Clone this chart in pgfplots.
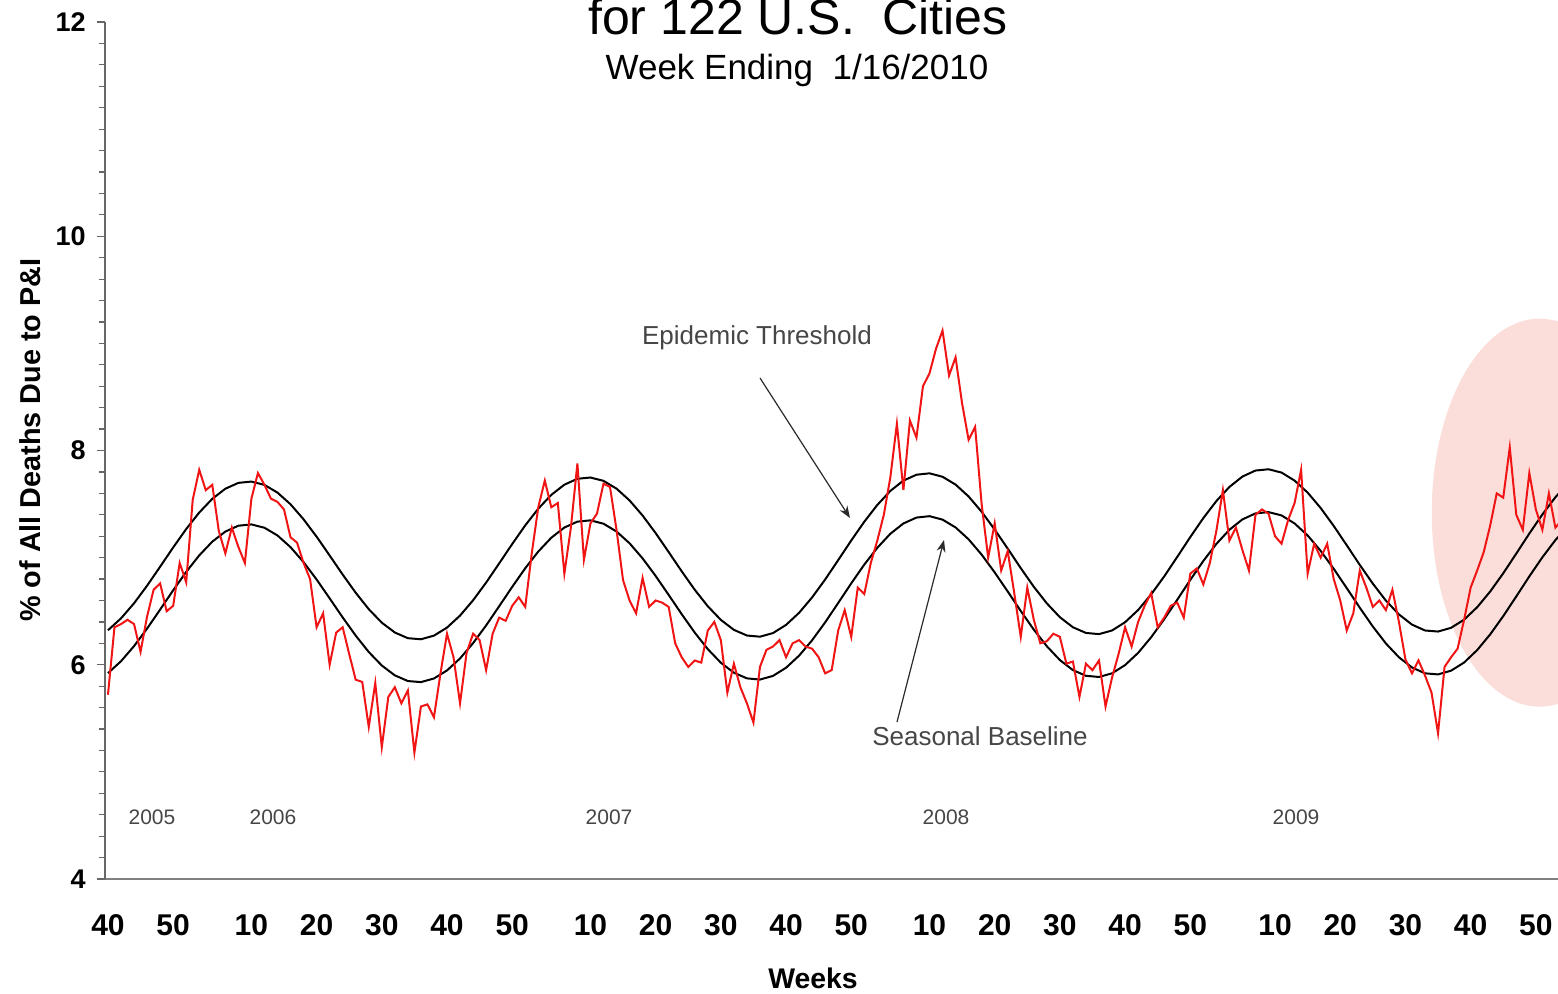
\documentclass[border=0pt]{standalone}
\usepackage{fontspec}
\setmainfont{Liberation Sans}
\usepackage{pgfplots}
\pgfplotsset{compat=1.18}
\usepackage{pgfplotstable}
\usetikzlibrary{arrows.meta}
\definecolor{pinkfill}{RGB}{251,222,217}
\definecolor{axgray}{RGB}{128,128,128}
\definecolor{txtgray}{RGB}{70,70,70}
\definecolor{pired}{RGB}{240,20,20}

\pgfplotstableread{
t b e
0 5.922 6.322
2 6.033 6.433
4 6.174 6.574
6 6.338 6.738
8 6.515 6.915
10 6.695 7.095
12 6.867 7.267
14 7.021 7.421
16 7.149 7.549
18 7.243 7.643
20 7.298 7.698
22 7.310 7.710
24 7.279 7.679
26 7.207 7.607
28 7.098 7.498
30 6.958 7.358
32 6.796 7.196
34 6.620 7.020
36 6.442 6.842
38 6.272 6.672
40 6.119 6.519
42 5.993 6.393
44 5.901 6.301
46 5.848 6.248
48 5.838 6.238
50 5.872 6.272
52 5.947 6.347
54 6.059 6.459
56 6.202 6.602
58 6.367 6.767
60 6.546 6.946
62 6.727 7.127
64 6.901 7.301
66 7.057 7.457
68 7.186 7.586
70 7.281 7.681
72 7.336 7.736
74 7.348 7.748
76 7.317 7.717
78 7.244 7.644
80 7.134 7.534
82 6.993 7.393
84 6.829 7.229
86 6.652 7.052
88 6.472 6.872
90 6.300 6.700
92 6.146 6.546
94 6.019 6.419
96 5.926 6.326
98 5.873 6.273
100 5.862 6.262
102 5.896 6.296
104 5.972 6.372
106 6.085 6.485
108 6.229 6.629
110 6.396 6.796
112 6.577 6.977
114 6.760 7.160
116 6.935 7.335
118 7.092 7.492
120 7.223 7.623
122 7.319 7.719
124 7.374 7.774
126 7.387 7.787
128 7.355 7.755
130 7.282 7.682
132 7.171 7.571
134 7.028 7.428
136 6.862 7.262
138 6.684 7.084
140 6.502 6.902
142 6.328 6.728
144 6.173 6.573
146 6.044 6.444
148 5.950 6.350
150 5.897 6.297
152 5.886 6.286
154 5.920 6.320
156 5.997 6.397
158 6.111 6.511
160 6.257 6.657
162 6.425 6.825
164 6.607 7.007
166 6.792 7.192
168 6.969 7.369
170 7.128 7.528
172 7.260 7.660
174 7.357 7.757
176 7.413 7.813
178 7.425 7.825
180 7.394 7.794
182 7.319 7.719
184 7.207 7.607
186 7.063 7.463
188 6.896 7.296
190 6.715 7.115
192 6.532 6.932
194 6.357 6.757
196 6.199 6.599
198 6.070 6.470
200 5.975 6.375
202 5.920 6.320
204 5.910 6.310
206 5.945 6.345
208 6.021 6.421
210 6.137 6.537
212 6.284 6.684
214 6.454 6.854
216 6.638 7.038
218 6.825 7.225
220 7.003 7.403
222 7.164 7.564
224 7.297 7.697
}\basetable

\begin{document}
\begin{tikzpicture}
\useasboundingbox (0,0) rectangle (779pt,496.5pt);
\begin{axis}[
  at={(52.35pt,57pt)}, anchor=south west,
  scale only axis, width=726.65pt, height=428.5pt,
  xmin=-0.5, xmax=222.4, ymin=4, ymax=12,
  axis x line*=bottom, axis y line*=left,
  x axis line style={axgray, line width=1.3pt},
  y axis line style={axgray!80!black, line width=0.8pt},
  xtick={0,10,22,32,42,52,62,74,84,94,104,114,126,136,146,156,166,179,189,199,209,219},
  xticklabels={40,50,10,20,30,40,50,10,20,30,40,50,10,20,30,40,50,10,20,30,40,50},
  x tick style={draw=none},
  xticklabel style={font=\fontsize{15}{15}\selectfont\bfseries, anchor=base, yshift=-24pt},
  ytick={4,6,8,10,12},
  minor y tick num=9,
  y tick style={axgray!80!black, line width=0.6pt},
  tick align=outside,
  major tick length=4pt, minor tick length=3pt,
  yticklabel style={font=\fontsize{13.5}{13.5}\selectfont\bfseries, anchor=east, xshift=-2pt},
  /pgf/number format/assume math mode=true,
  clip=true,
]
\fill[pinkfill] (axis cs:219.6,7.42) ellipse [x radius=54pt, y radius=97pt];
\addplot[black, line width=1pt] table[x=t,y=b]{\basetable};
\addplot[black, line width=1pt] table[x=t,y=e]{\basetable};
\addplot[pired, line width=1pt] coordinates {
(0,5.72)(1,6.35)(2,6.38)(3,6.42)(4,6.38)(5,6.12)(6,6.45)(7,6.70)(8,6.76)(9,6.50)
(10,6.55)(11,6.95)(12,6.77)(13,7.54)(14,7.82)(15,7.63)(16,7.68)(17,7.25)(18,7.04)(19,7.28)
(20,7.10)(21,6.95)(22,7.55)(23,7.79)(24,7.68)(25,7.55)(26,7.52)(27,7.45)(28,7.19)(29,7.14)
(30,6.95)(31,6.80)(32,6.35)(33,6.48)(34,6.00)(35,6.30)(36,6.35)(37,6.10)(38,5.86)(39,5.84)
(40,5.42)(41,5.83)(42,5.23)(43,5.70)(44,5.79)(45,5.64)(46,5.76)(47,5.18)(48,5.61)(49,5.63)
(50,5.51)(51,5.92)(52,6.29)(53,6.07)(54,5.64)(55,6.11)(56,6.29)(57,6.23)(58,5.95)(59,6.29)
(60,6.44)(61,6.41)(62,6.55)(63,6.63)(64,6.54)(65,7.04)(66,7.47)(67,7.72)(68,7.47)(69,7.51)
(70,6.85)(71,7.28)(72,7.88)(73,6.98)(74,7.32)(75,7.41)(76,7.69)(77,7.66)(78,7.26)(79,6.79)
(80,6.60)(81,6.48)(82,6.81)(83,6.54)(84,6.60)(85,6.58)(86,6.54)(87,6.20)(88,6.07)(89,5.98)
(90,6.04)(91,6.02)(92,6.32)(93,6.40)(94,6.23)(95,5.74)(96,6.01)(97,5.79)(98,5.64)(99,5.46)
(100,5.98)(101,6.14)(102,6.17)(103,6.23)(104,6.07)(105,6.20)(106,6.23)(107,6.17)(108,6.15)(109,6.07)
(110,5.92)(111,5.95)(112,6.32)(113,6.51)(114,6.26)(115,6.72)(116,6.66)(117,6.95)(118,7.16)(119,7.40)
(120,7.75)(121,8.25)(122,7.63)(123,8.28)(124,8.12)(125,8.60)(126,8.72)(127,8.95)(128,9.12)(129,8.70)
(130,8.87)(131,8.44)(132,8.10)(133,8.22)(134,7.50)(135,7.00)(136,7.32)(137,6.88)(138,7.06)(139,6.67)
(140,6.26)(141,6.72)(142,6.42)(143,6.20)(144,6.22)(145,6.29)(146,6.26)(147,6.01)(148,6.03)(149,5.70)
(150,6.01)(151,5.95)(152,6.04)(153,5.61)(154,5.88)(155,6.10)(156,6.35)(157,6.17)(158,6.40)(159,6.55)
(160,6.67)(161,6.35)(162,6.44)(163,6.55)(164,6.58)(165,6.44)(166,6.85)(167,6.90)(168,6.75)(169,6.95)
(170,7.25)(171,7.63)(172,7.16)(173,7.28)(174,7.07)(175,6.88)(176,7.40)(177,7.45)(178,7.41)(179,7.20)
(180,7.13)(181,7.35)(182,7.51)(183,7.82)(184,6.85)(185,7.13)(186,7.00)(187,7.13)(188,6.80)(189,6.60)
(190,6.32)(191,6.48)(192,6.88)(193,6.72)(194,6.54)(195,6.60)(196,6.51)(197,6.70)(198,6.40)(199,6.05)
(200,5.92)(201,6.04)(202,5.90)(203,5.74)(204,5.36)(205,5.98)(206,6.07)(207,6.15)(208,6.42)(209,6.72)
(210,6.88)(211,7.05)(212,7.30)(213,7.60)(214,7.56)(215,8.03)(216,7.40)(217,7.26)(218,7.79)(219,7.45)
(220,7.26)(221,7.60)(222,7.28)(223,7.35)(224,7.30)
};
\end{axis}
% titles
\node[anchor=base, font=\fontsize{25}{25}\selectfont] at (399pt,479pt) {for 122 U.S.\ \ Cities};
\node[anchor=base, font=\fontsize{17.5}{17.5}\selectfont] at (398.5pt,456.5pt) {Week Ending\ \ 1/16/2010};
% axis labels
\node[rotate=90, font=\fontsize{14.4}{14.4}\selectfont\bfseries] at (15pt,276.5pt) {\% of All Deaths Due to P\&I};
\node[anchor=base, font=\fontsize{14.2}{14.2}\selectfont\bfseries] at (406.5pt,2.5pt) {Weeks};
% years
\foreach \yx/\yl in {152/2005,273/2006,609/2007,946/2008,1296/2009}
  \node[font=\fontsize{10.5}{10.5}\selectfont, text=txtgray] at ({\yx*0.5pt},{(993-817)*0.5pt}) {\yl};
% annotations
\node[font=\fontsize{13}{13}\selectfont, text=txtgray] at ({757*0.5pt},{(993-338)*0.5pt}) {Epidemic Threshold};
\node[font=\fontsize{13}{13}\selectfont, text=txtgray] at ({980*0.5pt},{(993-736)*0.5pt}) {Seasonal Baseline};
\draw[-{Stealth[length=6pt,width=4.5pt]}, line width=0.6pt, txtgray!60!black] ({760*0.5pt},{(993-378)*0.5pt}) -- ({850*0.5pt},{(993-518)*0.5pt});
\draw[-{Stealth[length=6pt,width=4.5pt]}, line width=0.6pt, txtgray!60!black] ({897*0.5pt},{(993-722)*0.5pt}) -- ({944*0.5pt},{(993-540)*0.5pt});
\end{tikzpicture}
\end{document}
